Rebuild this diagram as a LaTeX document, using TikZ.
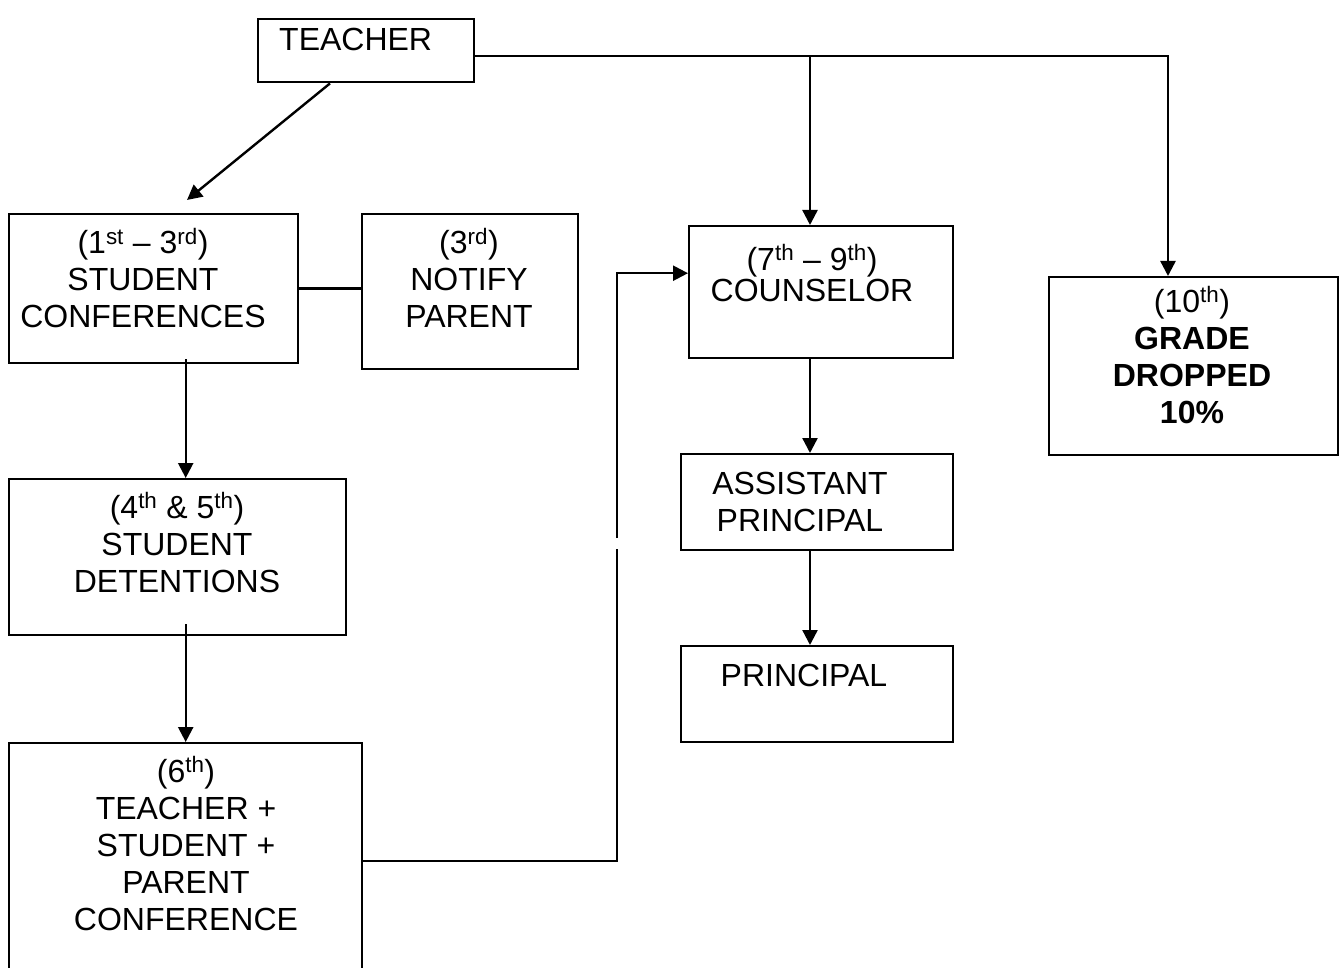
\documentclass[tikz,border=0pt]{standalone}
\usepackage{fontspec}
\setmainfont{Liberation Sans}
\usetikzlibrary{arrows.meta}
\begin{document}
\begin{tikzpicture}
  [x=1pt,y=-1pt,line width=2.4pt,
   box/.style={draw,rectangle,anchor=north west,inner sep=0pt},
   lbl/.style={align=center,inner sep=0pt,anchor=base,font=\fontsize{32}{37}\selectfont},
   arr/.style={-{Triangle[length=15pt,width=15pt]}}]
\clip (0,0) rectangle (1339,968);
% boxes
\node (tch)[box,minimum width=216,minimum height=63] at (257,18) {};
\node (sc)[box,minimum width=289,minimum height=149] at (8,213) {};
\node (np)[box,minimum width=216,minimum height=155] at (361,213) {};
\node (sd)[box,minimum width=337,minimum height=156] at (8,478) {};
\node (p6)[box,minimum width=353,minimum height=236] at (8,742) {};
\node (co)[box,minimum width=264,minimum height=132] at (688,225) {};
\node (ap)[box,minimum width=272,minimum height=96] at (680,453) {};
\node (pr)[box,minimum width=272,minimum height=96] at (680,645) {};
\node (gd)[box,minimum width=289,minimum height=178] at (1048,276) {};

% texts (placed at the baseline of the last line)
\node (ttch)[lbl,anchor=base west] at (278,51) {TEACHER};
\node (tsc)[lbl] at (143,328) {(1\textsuperscript{st} -- 3\textsuperscript{rd})\\STUDENT\\CONFERENCES};
\node (tnp)[lbl] at (469,328) {(3\textsuperscript{rd})\\NOTIFY\\PARENT};
\node (tsd)[lbl] at (177,592) {(4\textsuperscript{th} \& 5\textsuperscript{th})\\STUDENT\\DETENTIONS};
\node (tp6)[lbl] at (186,930) {(6\textsuperscript{th})\\TEACHER +\\STUDENT +\\PARENT\\CONFERENCE};
\node (tco)[lbl] at (812,302) {(7\textsuperscript{th} -- 9\textsuperscript{th})\\[-5pt]COUNSELOR};
\node (tap)[lbl] at (800,531) {ASSISTANT\\PRINCIPAL};
\node (tpr)[lbl] at (804,686) {PRINCIPAL};
\node (tgd)[lbl] at (1192,423) {(10\textsuperscript{th})\\\textbf{GRADE}\\\textbf{DROPPED}\\\textbf{10\%}};

% connectors
\coordinate (spine) at (810,56);
\coordinate (drop) at (1168,56);
\coordinate (tip) at (187,200);
\coordinate (jog) at (617,549);
\coordinate (jog2) at (617,538);

\draw[arr] (tch.east |- spine) -- (drop) -- (drop |- gd.north);
\draw[arr] (spine) -- (spine |- co.north);
\foreach \from/\to in {co/ap,ap/pr}
  \draw[arr] (\from.south -| spine) -- (\to.north -| spine);
\draw[arr] (tch.south west) ++(73,0) -- (tip);
\draw (sc.east) -- (sc.east -| np.west);
\draw[arr] (sc.south -| p6.north) ++(0,-5) -- (sd.north -| p6.north);
\draw[arr] (sd.south -| p6.north) ++(0,-12) -- (p6.north);
\draw (p6.east) -| (jog);
\draw[arr] (jog2) |- ([yshift=19pt]co.west);
\end{tikzpicture}
\end{document}
